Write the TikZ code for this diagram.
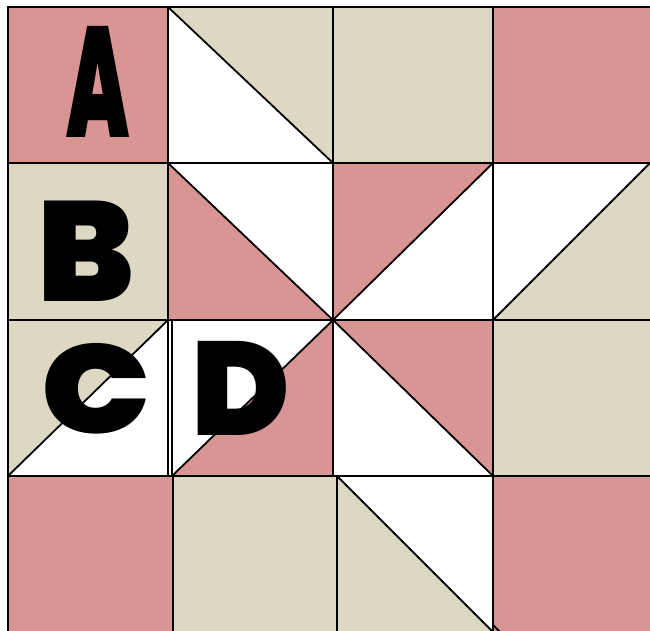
\documentclass[tikz,border=0pt]{standalone}
\usepackage{fontspec}
\newfontfamily\heavy{Poppins Black}
\definecolor{qpink}{RGB}{217,148,148}
\definecolor{qbeige}{RGB}{220,216,195}
\begin{document}
\begin{tikzpicture}[x=1pt,y=-1pt,
  edge/.style={draw=black,line width=1.8pt,line join=miter},
  letter/.style={inner sep=0pt,text=black}]
\useasboundingbox (0,0) rectangle (650,630);
\clip (0,0) rectangle (650,630);
\fill[white] (0,0) rectangle (650,630);
% Row 1
\filldraw[edge,fill=qpink] (8,7) rectangle (168,163);
\filldraw[edge,fill=qbeige] (168,7) rectangle (333,163);
\fill[white] (168,7) -- (333,163) -- (168,163) -- cycle;
\draw[edge] (168,7) -- (333,163);
\draw[edge] (168,7) rectangle (333,163);
\filldraw[edge,fill=qbeige] (333,7) rectangle (493,163);
\filldraw[edge,fill=qpink] (493,7) rectangle (652,163);
% Row 2
\filldraw[edge,fill=qbeige] (8,163) rectangle (168,320);
\filldraw[edge,fill=white] (168,163) rectangle (333,320);
\fill[qpink] (168,163) -- (333,320) -- (168,320) -- cycle;
\draw[edge] (168,163) -- (333,320);
\draw[edge] (168,163) rectangle (333,320);
\filldraw[edge,fill=white] (333,163) rectangle (493,320);
\fill[qpink] (333,163) -- (493,163) -- (333,320) -- cycle;
\draw[edge] (493,163) -- (333,320);
\draw[edge] (333,163) rectangle (493,320);
\filldraw[edge,fill=white] (493,163) rectangle (652,320);
\fill[qbeige] (650,163) -- (652,163) -- (652,320) -- (493,320) -- cycle;
\draw[edge] (493,320) -- (650,163);
\draw[edge] (493,163) rectangle (652,320);
% Row 3
\filldraw[edge,fill=white] (8,320) rectangle (168,476);
\fill[qbeige] (8,320) -- (168,320) -- (8,476) -- cycle;
\draw[edge] (8,476) -- (168,320);
\draw[edge] (8,320) rectangle (168,476);
\filldraw[edge,fill=white] (172,320) rectangle (333,476);
\fill[qpink] (333,320) -- (333,476) -- (172,476) -- cycle;
\draw[edge] (172,476) -- (333,320);
\draw[edge] (172,320) rectangle (333,476);
\filldraw[edge,fill=white] (333,320) rectangle (493,476);
\fill[qpink] (333,320) -- (493,320) -- (493,476) -- cycle;
\draw[edge] (333,320) -- (493,476);
\draw[edge] (333,320) rectangle (493,476);
\filldraw[edge,fill=qbeige] (493,320) rectangle (652,476);
% Row 4
\filldraw[edge,fill=qpink] (8,476) rectangle (173,634);
\filldraw[edge,fill=qbeige] (173,476) rectangle (337,634);
\filldraw[edge,fill=white] (337,476) rectangle (493,634);
\fill[qbeige] (337,476) -- (495,634) -- (337,634) -- cycle;
\draw[edge] (337,476) -- (495,634);
\draw[edge] (337,476) rectangle (493,634);
\filldraw[edge,fill=qpink] (493,476) rectangle (652,634);
\draw[edge] (493,625) -- (500,632);
% Letters
\node[letter,font=\heavy\fontsize{157}{157}\selectfont] (la) at (98,82) {\scalebox{0.52}[1]{A}};
\node[letter,font=\heavy\fontsize{142}{142}\selectfont] (lb) at (86,251.5) {B};
\node[letter,font=\heavy\fontsize{126}{126}\selectfont] (lc) at (96,389) {\scalebox{1.15}[1]{C}};
\node[letter,font=\heavy\fontsize{133}{133}\selectfont] (ld) at (241,388.5) {D};
\end{tikzpicture}
\end{document}
